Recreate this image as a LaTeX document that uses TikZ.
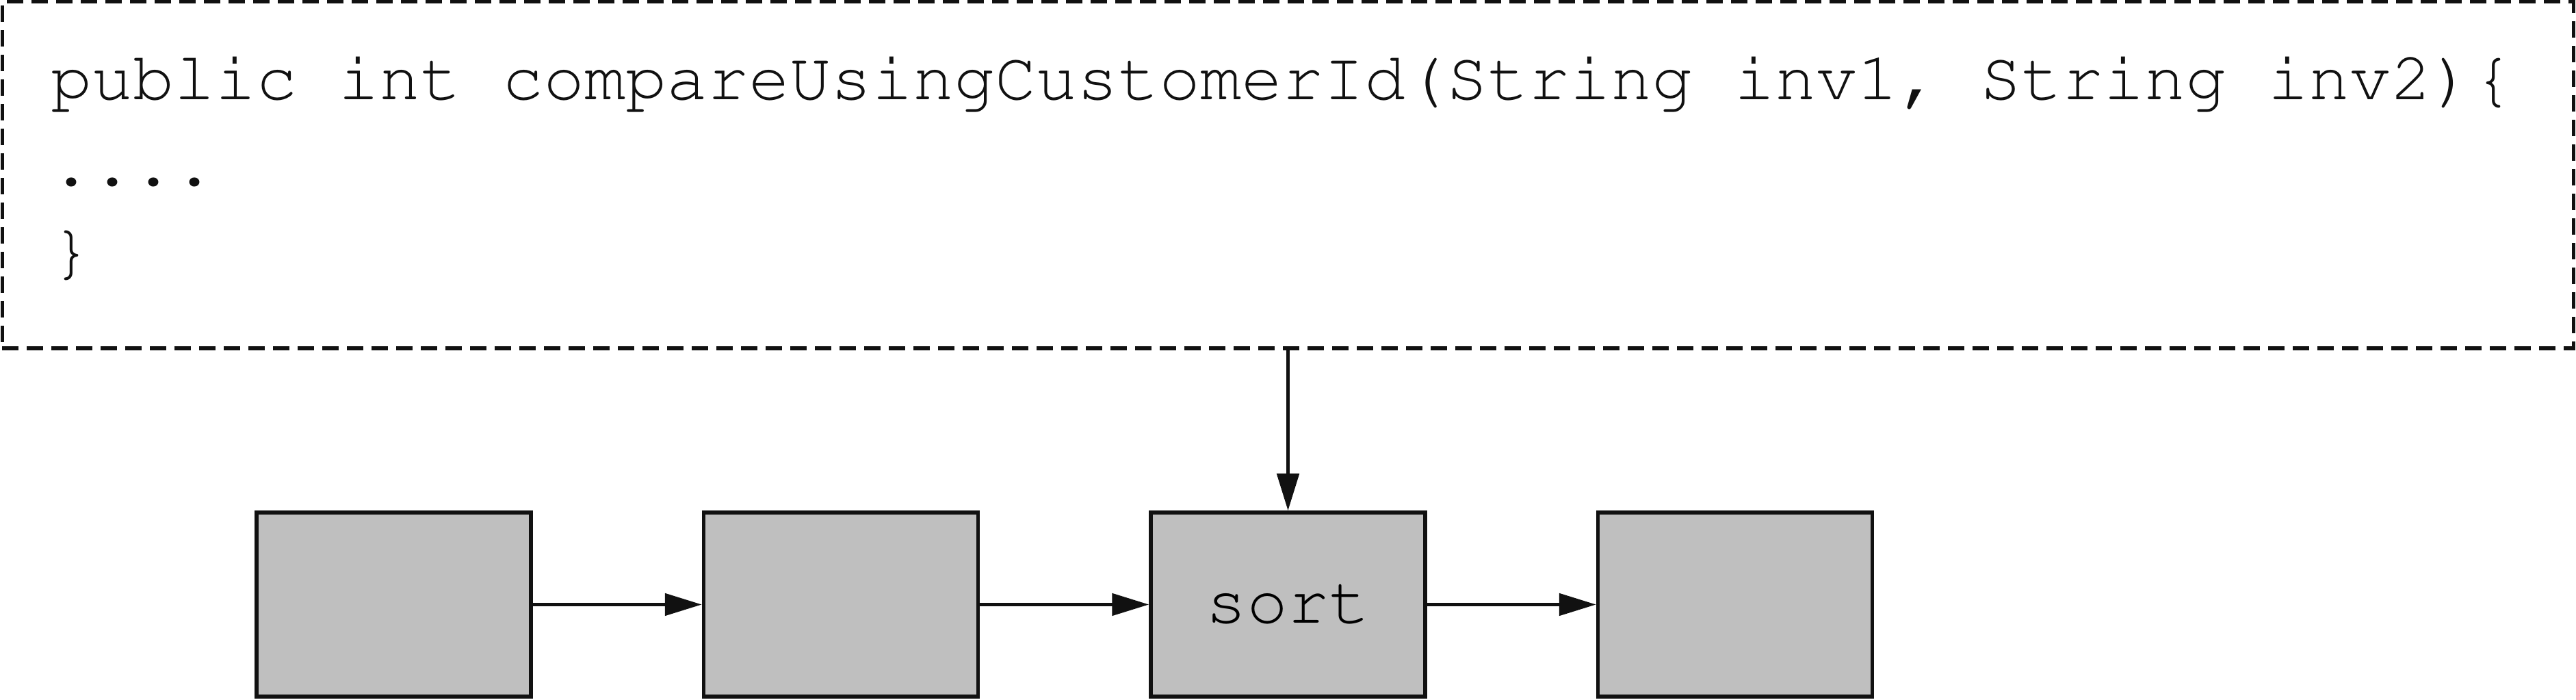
\documentclass[tikz,border=0pt]{standalone}
\usepackage[T1,TU]{fontenc}
\usepackage{tikz}
\usetikzlibrary{arrows.meta, positioning}
\definecolor{boxgray}{RGB}{191,191,191}
\definecolor{inkblack}{RGB}{17,17,17}
\newcommand{\codefont}{\fontencoding{T1}\fontfamily{pcr}\fontsize{28.45pt}{35.87pt}\selectfont}
\tikzset{
  stagebox/.style = {rectangle, draw=inkblack, fill=boxgray, line width=0.055cm, minimum width=4.01cm, minimum height=2.69cm, inner sep=0pt, font=\codefont},
  codebox/.style = {rectangle, draw=inkblack, dash pattern=on 0.24cm off 0.12cm, line width=0.055cm, minimum width=37.582cm, minimum height=5.063cm, inner sep=0pt},
  codetext/.style = {align=left, inner sep=0pt, font=\codefont, text=inkblack},
  flow/.style = {draw=inkblack, line width=0.05cm, -{Triangle[length=0.54cm, width=0.32cm]}},
}
\begin{document}
\begin{tikzpicture}[node distance=2.47cm]
\useasboundingbox (0,0) rectangle (37.65,10.23);
% comparator source on top (base anchor sits on the last line)
\node [codebox] (code) at (18.824,7.6715) {};
\node [codetext, anchor=base west] (src) at (0.74,6.25)
  {public int compareUsingCustomerId(String inv1, String inv2)\{\\
   ....\\
   \}};
% pipeline stages
\node [stagebox] (stageA) at (5.755,1.395) {};
\node [stagebox, right=of stageA] (stageB) {};
\node [stagebox, right=of stageB] (sort) {sort};
\node [stagebox, right=of sort] (stageD) {};
\draw [flow] (stageA) -- (stageB);
\draw [flow] (stageB) -- (sort);
\draw [flow] (sort) -- (stageD);
\draw [flow] (code.south -| sort.north) -- (sort.north);
\end{tikzpicture}
\end{document}
